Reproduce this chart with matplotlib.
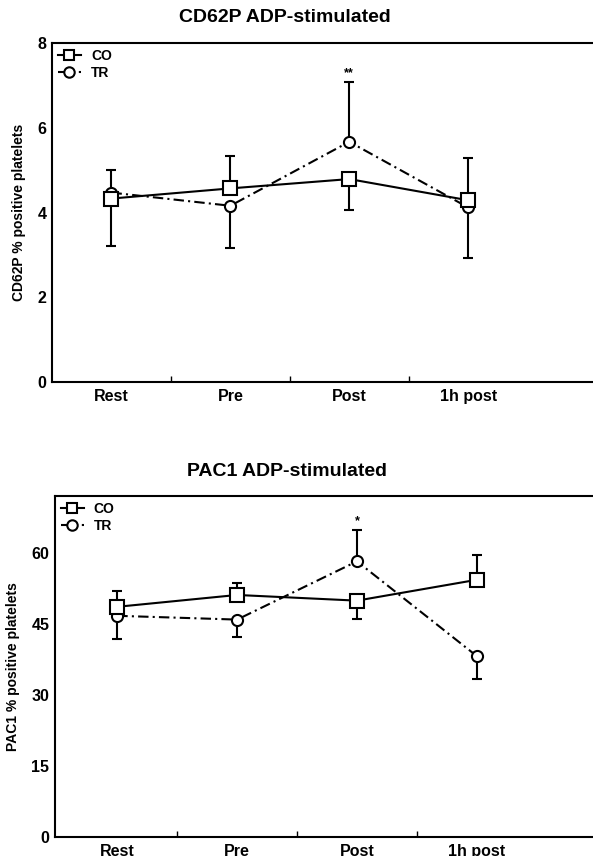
import matplotlib
matplotlib.use('Agg')
import matplotlib.pyplot as plt

plt.rcParams['font.family'] = ['Liberation Sans', 'DejaVu Sans']
plt.rcParams['font.weight'] = 'bold'

times = ['Rest', 'Pre', 'Post', '1h post']

# CD62P ADP-stimulated
cd62p_co = [4.33, 4.57, 4.79, 4.29]
cd62p_tr = [4.47, 4.16, 5.67, 4.12]
cd62p_co_up = [0.67, 0.76, 0.0, 0.99]
cd62p_co_lo = [0.0, 0.0, 0.73, 0.0]
cd62p_tr_up = [0.0, 0.0, 1.41, 0.0]
cd62p_tr_lo = [1.27, 1.0, 0.0, 1.2]

# PAC1 ADP-stimulated
pac1_co = [48.6, 51.1, 49.9, 54.3]
pac1_tr = [46.7, 45.9, 58.2, 38.2]
pac1_co_up = [3.3, 2.5, 0.0, 5.3]
pac1_co_lo = [0.0, 0.0, 3.8, 0.0]
pac1_tr_up = [0.0, 0.0, 6.6, 0.0]
pac1_tr_lo = [4.8, 3.7, 0.0, 4.8]


def panel(ax, co, tr, co_err, tr_err, ylim, yticks, ylabel, star, star_y):
    x = range(len(times))
    ax.errorbar(x, co, yerr=co_err, fmt='none', ecolor='black', elinewidth=1.5, capsize=3.5, capthick=1.5, zorder=2)
    ax.errorbar(x, tr, yerr=tr_err, fmt='none', ecolor='black', elinewidth=1.5, capsize=3.5, capthick=1.5, zorder=2)
    ax.plot(x, co, color='black', lw=1.5, marker='s', ms=9.5, mfc='white', mec='black', mew=1.5, label='CO', zorder=4)
    ax.plot(x, tr, color='black', lw=1.5, dashes=(5, 2, 1, 2), marker='o', ms=8, mfc='white', mec='black', mew=1.5, label='TR', zorder=3)
    ax.text(2, star_y, star, ha='center', va='center', fontsize=9)
    ax.set_ylim(*ylim)
    ax.set_yticks(yticks)
    ax.set_ylabel(ylabel, fontsize=10, fontweight='bold', labelpad=8)
    ax.set_xticks([0.5, 1.5, 2.5])
    ax.set_xticklabels([])
    ax.set_xticks(list(x), minor=True)
    ax.set_xticklabels(times, minor=True, fontsize=11.5, fontweight='bold')
    ax.tick_params(axis='x', which='major', direction='in', length=4, width=1)
    ax.tick_params(axis='x', which='minor', length=0, pad=5)
    ax.tick_params(axis='y', length=0, labelsize=11.5, pad=4)
    ax.spines['right'].set_visible(False)
    for s in ['left', 'top', 'bottom']:
        ax.spines[s].set_linewidth(1.5)
    leg = ax.legend(loc='upper left', frameon=False, fontsize=10, handlelength=1.7,
                    borderaxespad=0.1, borderpad=0.3, labelspacing=0.25, handletextpad=0.7)
    for h in leg.legend_handles:
        h.set_markersize(7.5)


fig = plt.figure(figsize=(5.93, 8.56), dpi=100)

ax1 = fig.add_axes([0.0877, 0.5537, 0.9123, 0.3960])
panel(ax1, cd62p_co, cd62p_tr, [cd62p_co_lo, cd62p_co_up], [cd62p_tr_lo, cd62p_tr_up],
      (0, 8), [0, 2, 4, 6, 8], 'CD62P % positive platelets', '**', 7.3)
ax1.set_xlim(-0.5, 4.05)
fig.text(285 / 593, 1 - 18 / 856, 'CD62P ADP-stimulated', ha='center', va='center', fontsize=14, fontweight='bold')

ax2 = fig.add_axes([0.0927, 0.0222, 0.9073, 0.3984])
panel(ax2, pac1_co, pac1_tr, [pac1_co_lo, pac1_co_up], [pac1_tr_lo, pac1_tr_up],
      (0, 72), [0, 15, 30, 45, 60], 'PAC1 % positive platelets', '*', 66.7)
ax2.set_xlim(-0.52, 3.97)
fig.text(287 / 593, 1 - 471 / 856, 'PAC1 ADP-stimulated', ha='center', va='center', fontsize=14, fontweight='bold')

fig.savefig('out.png', dpi=100)
